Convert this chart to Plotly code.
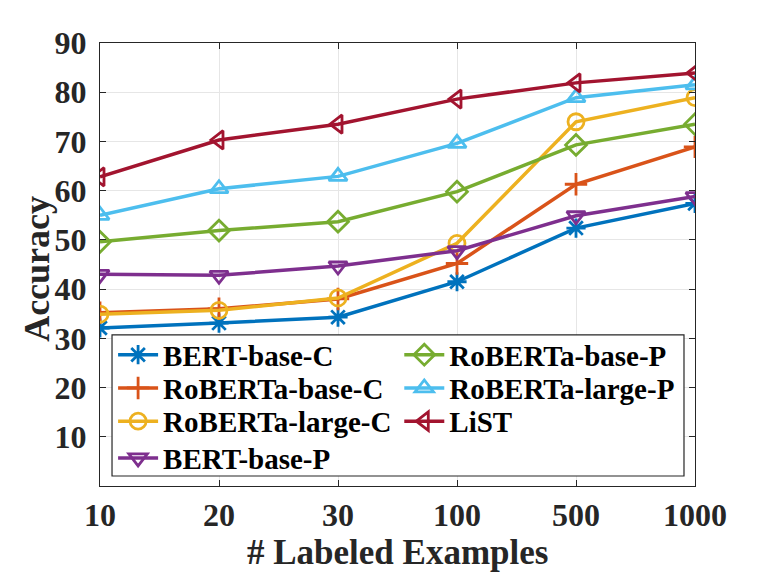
import plotly.graph_objects as go

examples = ["10", "20", "30", "100", "500", "1000"]

bert_base_c = [32.1, 33.1, 34.3, 41.5, 52.4, 57.4]
roberta_base_c = [35.2, 36.0, 38.0, 45.2, 61.3, 68.9]
roberta_large_c = [34.9, 35.7, 38.2, 49.3, 74.0, 78.9]
bert_base_p = [43.0, 42.8, 44.7, 47.8, 54.9, 58.8]
roberta_base_p = [49.6, 51.9, 53.7, 59.8, 69.3, 73.5]
roberta_large_p = [55.0, 60.4, 62.9, 69.6, 78.9, 81.5]
list_model = [62.8, 70.3, 73.5, 78.6, 81.9, 83.9]

# name, values, colour, marker, legend column, legend row
series = [
    ("BERT-base-C", bert_base_c, "#0072BD", "asterisk-open", 0, 0),
    ("RoBERTa-base-C", roberta_base_c, "#D95319", "cross-thin-open", 0, 1),
    ("RoBERTa-large-C", roberta_large_c, "#EDB120", "circle-open", 0, 2),
    ("BERT-base-P", bert_base_p, "#7E2F8E", "triangle-down-open", 0, 3),
    ("RoBERTa-base-P", roberta_base_p, "#77AC30", "diamond-open", 1, 0),
    ("RoBERTa-large-P", roberta_large_p, "#4DBEEE", "triangle-up-open", 1, 1),
    ("LiST", list_model, "#A2142F", "triangle-left-open", 1, 2),
]

font = "Liberation Serif, Times New Roman, serif"
axis_col = "#262626"

# legend placement in paper coords (plot area is 595 x 443 px)
col_x = [0.022, 0.503]
row_y = [0.296, 0.221, 0.146, 0.063]

fig = go.Figure()
legends = {}
for i, (name, vals, color, sym, col, row) in enumerate(series):
    key = "legend" if i == 0 else "legend%d" % (i + 1)
    fig.add_trace(go.Scatter(
        x=examples, y=vals, name=name, mode="lines+markers",
        line=dict(color=color, width=3.5),
        marker=dict(symbol=sym, size=16, color=color, line=dict(color=color, width=2.8)),
        legend=key,
    ))
    legends[key] = dict(
        x=col_x[col], y=row_y[row], xanchor="left", yanchor="middle",
        bgcolor="rgba(0,0,0,0)", borderwidth=0, itemwidth=40,
        font=dict(family=font, size=29, color="black", weight="bold"),
    )

# legend frame
fig.add_shape(
    type="rect", xref="paper", yref="paper",
    x0=0.0202, x1=0.9815, y0=0.0226, y1=0.341,
    line=dict(color=axis_col, width=1.2), fillcolor="white", layer="above",
)

fig.add_annotation(
    text="# Labeled Examples", xref="paper", yref="paper", x=0.5, y=-0.151,
    xanchor="center", yanchor="middle", showarrow=False,
    font=dict(family=font, size=35, color=axis_col, weight="bold"),
)
fig.add_annotation(
    text="Accuracy", xref="paper", yref="paper", x=-0.106, y=0.49,
    xanchor="center", yanchor="middle", showarrow=False, textangle=-90,
    font=dict(family=font, size=36, color=axis_col, weight="bold"),
)

fig.update_layout(
    width=768, height=576,
    margin=dict(l=100, r=73, t=43, b=90),
    plot_bgcolor="white", paper_bgcolor="white",
    font=dict(family=font, size=22, color=axis_col),
    showlegend=True,
    xaxis=dict(
        type="category", range=[0, 5], automargin=False,
        showgrid=True, gridcolor="#e6e6e6", gridwidth=1,
        showline=True, linecolor=axis_col, linewidth=1.2, mirror="ticks",
        ticks="inside", ticklen=6, tickcolor=axis_col,
        tickfont=dict(family=font, size=32, weight="bold"),
        ticklabelstandoff=0,
    ),
    yaxis=dict(
        range=[0, 90], tickvals=[10, 20, 30, 40, 50, 60, 70, 80, 90],
        automargin=False,
        showgrid=True, gridcolor="#e6e6e6", gridwidth=1, zeroline=False,
        showline=True, linecolor=axis_col, linewidth=1.2, mirror="ticks",
        ticks="inside", ticklen=6, tickcolor=axis_col,
        tickfont=dict(family=font, size=32, weight="bold"),
        ticklabelstandoff=6,
    ),
    **legends,
)

# the page's default body margin would shift the 768x576 figure
fig.write_html("out.html", config={"displayModeBar": False},
               post_script="document.body.style.margin='0';")
